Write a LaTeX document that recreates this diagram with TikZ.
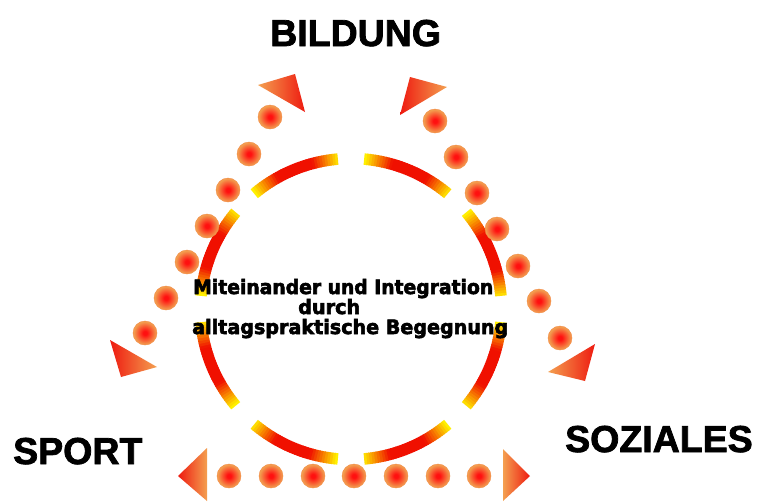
\documentclass[tikz,border=0pt]{standalone}
\usepackage{fontspec}
\setmainfont{Liberation Sans}
\newfontfamily\heavyfont[FakeBold=2]{Liberation Sans Bold}
\newfontfamily\midfont[FakeBold=3]{DejaVu Sans Bold}
\usetikzlibrary{calc}
\definecolor{dotout}{HTML}{F2A050}
\definecolor{dotin}{HTML}{FF1010}
\definecolor{ringred}{HTML}{F01000}
\definecolor{ringyel}{HTML}{FFF000}
\definecolor{triorange}{HTML}{F4A050}
\definecolor{trired}{HTML}{EE1A10}
\pgfdeclareradialshading{dotshade}{\pgfpoint{0bp}{0bp}}{color(0bp)=(dotin); color(4bp)=(dotin); color(24bp)=(dotout); color(50bp)=(dotout)}
\tikzset{
  dot/.style={circle, minimum size=24pt, inner sep=0pt, shading=dotshade, draw=dotout!85!red, line width=0.4pt},
  biglabel/.style={font=\fontsize{37.5}{40}\heavyfont, inner sep=0pt, anchor=base west},
  midtext/.style={font=\fontsize{17}{20}\midfont, inner sep=0pt, anchor=base west},
}
\begin{document}
\begin{tikzpicture}[x=1pt,y=-1pt]
\useasboundingbox (0,0) rectangle (757,501);
\fill[white] (0,0) rectangle (757,501);
\coordinate (c) at (351,309);
% ring segments with yellow ends and red middle
\foreach \g in {0,...,7}{
  \foreach \s in {0,...,35}{
    \pgfmathsetmacro{\t}{\s/35}
    \pgfmathtruncatemacro{\p}{min(100,170*(1-abs(2*\t-1)))}
    \pgfmathsetmacro{\a}{\g*45+5+\s}
    \pgfmathsetmacro{\b}{min(\g*45+40,\a+1.3)}
    \draw[line width=11.5pt, color=ringred!\p!ringyel] ($(c)+(\a:150.5)$) arc[start angle=\a, end angle=\b, radius=150.5];
  }
}
% dots left diagonal
\foreach \i/\x/\y in {1/270/117,2/249/154,3/228/190,4/207/226,5/187/262,6/166/298,7/145/333}
  \node[dot] (l\i) at (\x,\y) {};
% dots right diagonal
\foreach \i/\x/\y in {1/435/121,2/456/157,3/477/193,4/497/229,5/518/266,6/539/301,7/560/338}
  \node[dot] (r\i) at (\x,\y) {};
% dots bottom
\foreach \i/\x in {1/229,2/271,3/313,4/354,5/396,6/438,7/479}
  \node[dot] (b\i) at (\x,476) {};
% arrow heads
\shade[left color=triorange, right color=trired] (258,85) -- (295,74) -- (305,112) -- cycle;
\shade[left color=trired, right color=triorange] (110,340) -- (121,377) -- (157,367) -- cycle;
\shade[left color=trired, right color=triorange] (410,77) -- (447,87) -- (400,115) -- cycle;
\shade[left color=triorange, right color=trired] (548,372) -- (595,344) -- (585,381) -- cycle;
\shade[left color=trired, right color=triorange] (207,448) -- (178,476) -- (207,501) -- cycle;
\shade[left color=triorange, right color=trired] (503,449) -- (530,476) -- (503,501) -- cycle;
% labels
\node[biglabel] (bild) at (270,46) {BILDUNG};
\node[biglabel] (sport) at (13,464) {SPORT};
\node[biglabel] (soz) at (565,452) {SOZIALES};
\node[midtext] (m1) at (193,294) {\resizebox{300pt}{15pt}{Miteinander und Integration}};
\node[midtext] (m2) at (298,314) {\resizebox{62pt}{15pt}{durch}};
\node[midtext] (m3) at (192,334) {\resizebox{316pt}{15pt}{alltagspraktische Begegnung}};
\end{tikzpicture}
\end{document}
